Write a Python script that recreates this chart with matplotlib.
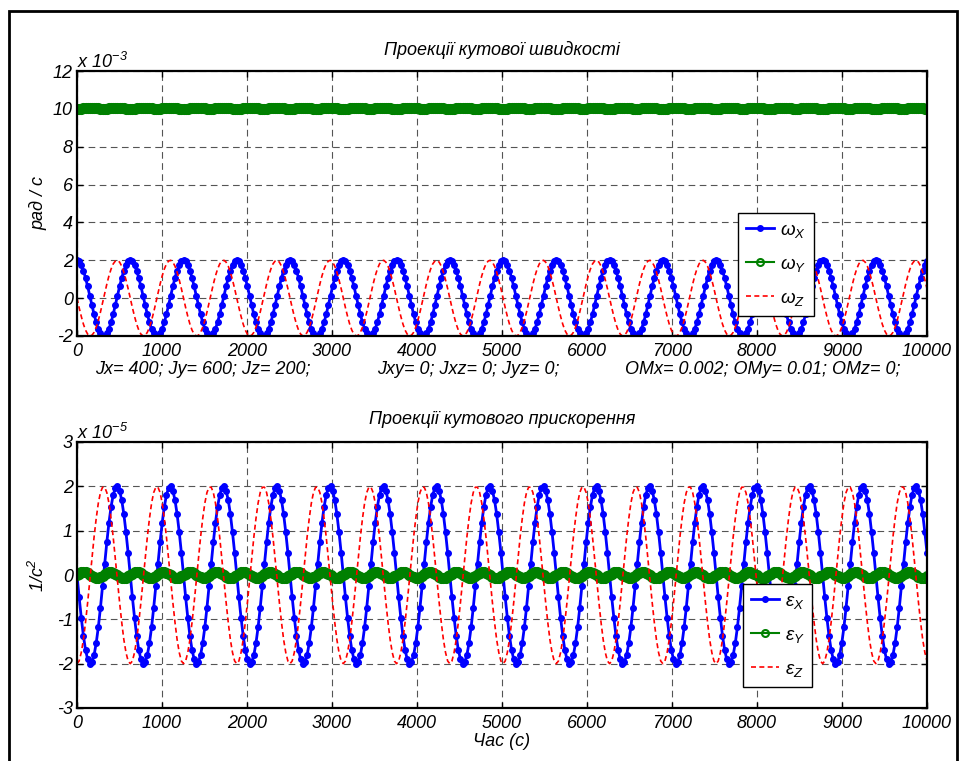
import numpy as np
import matplotlib
matplotlib.use("Agg")
import matplotlib.pyplot as plt
from matplotlib.patches import Rectangle

plt.rcParams['font.family'] = ['Liberation Sans', 'DejaVu Sans']
plt.rcParams['font.style'] = 'italic'
plt.rcParams['mathtext.fontset'] = 'custom'
plt.rcParams['mathtext.rm'] = 'Liberation Sans:italic'
plt.rcParams['mathtext.it'] = 'Liberation Sans:italic'

# ---------------- data (one period of samples, repeated) -------------
n_cycles = 16
time = np.linspace(0, 10000, 400)

# angular velocity, x 1e-3 rad/s
omega_x_cycle = [2.00, 1.94, 1.75, 1.46, 1.07, 0.62, 0.13, -0.37, -0.85, -1.27, -1.62, -1.86, -1.98,
                 -1.98, -1.86, -1.62, -1.27, -0.85, -0.37, 0.13, 0.62, 1.07, 1.46, 1.75, 1.94]
omega_y_cycle = [10.000, 10.004, 10.015, 10.031, 10.048, 10.060, 10.066, 10.064, 10.055, 10.040, 10.023, 10.009, 10.001,
                 10.001, 10.009, 10.023, 10.040, 10.055, 10.064, 10.066, 10.060, 10.048, 10.031, 10.015, 10.004]
omega_z_cycle = [0.00, -0.50, -0.96, -1.37, -1.69, -1.90, -2.00, -1.96, -1.81, -1.54, -1.18, -0.74, -0.25,
                 0.25, 0.74, 1.18, 1.54, 1.81, 1.96, 2.00, 1.90, 1.69, 1.37, 0.96, 0.50]
# angular acceleration, x 1e-5 1/s^2
eps_x_cycle = [0.00, -0.50, -0.96, -1.37, -1.69, -1.90, -2.00, -1.96, -1.81, -1.54, -1.18, -0.74, -0.25,
               0.25, 0.74, 1.18, 1.54, 1.81, 1.96, 2.00, 1.90, 1.69, 1.37, 0.96, 0.50]
eps_y_cycle = [0.000, 0.032, 0.057, 0.067, 0.061, 0.039, 0.008, -0.025, -0.052, -0.066, -0.064, -0.046, -0.017,
               0.017, 0.046, 0.064, 0.066, 0.052, 0.025, -0.008, -0.039, -0.061, -0.067, -0.057, -0.032]
eps_z_cycle = [-2.00, -1.94, -1.75, -1.46, -1.07, -0.62, -0.13, 0.37, 0.85, 1.27, 1.62, 1.86, 1.98,
               1.98, 1.86, 1.62, 1.27, 0.85, 0.37, -0.13, -0.62, -1.07, -1.46, -1.75, -1.94]

omega_x = np.tile(omega_x_cycle, n_cycles)
omega_y = np.tile(omega_y_cycle, n_cycles)
omega_z = np.tile(omega_z_cycle, n_cycles)
eps_x = np.tile(eps_x_cycle, n_cycles)
eps_y = np.tile(eps_y_cycle, n_cycles)
eps_z = np.tile(eps_z_cycle, n_cycles)

x_ticks = list(range(0, 10001, 1000))
top_yticks = [-2, 0, 2, 4, 6, 8, 10, 12]
bot_yticks = [-3, -2, -1, 0, 1, 2, 3]

title_top = 'Проекції кутової швидкості'
title_bot = 'Проекції кутового прискорення'
ylabel_top = 'рад / с'
ylabel_bot = '1/с$^2$'
xlabel_bot = 'Час (с)'
params = ['Jx= 400; Jy= 600; Jz= 200;', 'Jxy= 0; Jxz= 0; Jyz= 0;', 'OMx= 0.002; OMy= 0.01; OMz= 0;']

# ---------------- figure -------------
W, H = 960, 761
fig = plt.figure(figsize=(W / 100, H / 100), dpi=100)
fig.patch.set_facecolor('white')

# outer frame
fig.add_artist(Rectangle((9 / W, -0.01), (957 - 9) / W, 1 - 11 / H + 0.01,
                         transform=fig.transFigure, fill=False, edgecolor='black', lw=2.0))


def fx(px):
    return px / W


def fy(py):
    return 1 - py / H


ax1 = fig.add_axes([fx(77), fy(336), fx(927) - fx(77), fy(71) - fy(336)])
ax2 = fig.add_axes([fx(77), fy(708), fx(927) - fx(77), fy(442) - fy(708)])

FS = 13


def style(ax, yticks):
    ax.set_xlim(0, 10000)
    ax.set_ylim(yticks[0], yticks[-1])
    ax.set_xticks(x_ticks)
    ax.set_xticklabels([str(v) for v in x_ticks], fontsize=FS)
    ax.set_yticks(yticks)
    ax.set_yticklabels([str(v) for v in yticks], fontsize=FS)
    ax.tick_params(direction='in', top=True, right=True, length=4, width=1.0, pad=3)
    ax.tick_params(axis='x', pad=5)
    for s in ax.spines.values():
        s.set_linewidth(1.6)
    ax.grid(True, color='#555555', linestyle=(0, (6, 4)), linewidth=0.8)
    ax.set_axisbelow(True)


style(ax1, top_yticks)
style(ax2, bot_yticks)

blue_kw = dict(color='#0000ff', lw=2.0, marker='.', markersize=8)
green_kw = dict(color='#008000', lw=1.5, marker='o', markersize=6, markerfacecolor='none', markeredgewidth=2.0)
red_kw = dict(color='#ff0000', lw=1.2, linestyle=(0, (3, 2)))

ax1.plot(time, omega_x, label=r'$\omega_X$', **blue_kw)
ax1.plot(time, omega_y, label=r'$\omega_Y$', **green_kw)
ax1.plot(time, omega_z, label=r'$\omega_Z$', **red_kw)

ax2.plot(time, eps_x, label=r'$\varepsilon_X$', **blue_kw)
ax2.plot(time, eps_y, label=r'$\varepsilon_Y$', **green_kw)
ax2.plot(time, eps_z, label=r'$\varepsilon_Z$', **red_kw)

leg_kw = dict(numpoints=1, fancybox=False, edgecolor='black', framealpha=1.0, fontsize=13.5,
              handlelength=1.5, handletextpad=0.35, labelspacing=0.8, borderpad=0.4, borderaxespad=0,
              handleheight=0.9)
l1 = ax1.legend(loc='upper left', bbox_to_anchor=((738 - 77) / 850, (336 - 213) / 265), **leg_kw)
l1.get_frame().set_linewidth(1.0)
l2 = ax2.legend(loc='upper left', bbox_to_anchor=((743 - 77) / 850, (708 - 584) / 266), **leg_kw)
l2.get_frame().set_linewidth(1.0)
for lg in (l1, l2):
    lines = lg.get_lines()
    lines[1].set_markersize(5)
    lines[1].set_markeredgewidth(1.5)

# titles
fig.text(fx(502), fy(50), title_top, ha='center', va='center', fontsize=13)
fig.text(fx(502), fy(420), title_bot, ha='center', va='center', fontsize=13)

# exponent labels
fig.text(fx(77), fy(72), r'x 10$^{-3}$', ha='left', va='bottom', fontsize=FS)
fig.text(fx(77), fy(443), r'x 10$^{-5}$', ha='left', va='bottom', fontsize=FS)

# y labels
fig.text(fx(38), fy(203), ylabel_top, ha='center', va='center', rotation=90, fontsize=FS)
fig.text(fx(38), fy(575), ylabel_bot, ha='center', va='center', rotation=90, fontsize=FS)

# x label
fig.text(fx(502), fy(741), xlabel_bot, ha='center', va='center', fontsize=FS)

# parameter line
for xp, s in zip([95, 377, 625], params):
    fig.text(fx(xp), fy(370), s, ha='left', va='center', fontsize=FS)

fig.savefig('out.png', dpi=100, facecolor='white')
